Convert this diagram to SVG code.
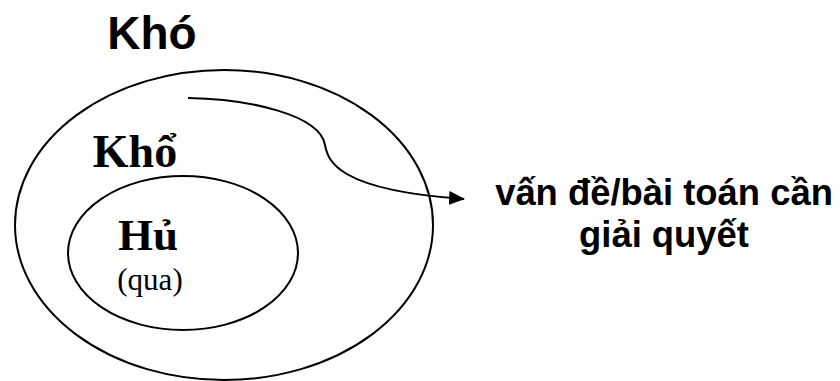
<svg xmlns="http://www.w3.org/2000/svg" width="840" height="381" viewBox="0 0 840 381">
<style>
.line{fill:none;stroke:#000;stroke-width:2}
.sans{font-family:"Liberation Sans",Arial,sans-serif;font-weight:bold;fill:#000}
.serif{font-family:"Liberation Serif","Times New Roman",serif;fill:#000}
</style>
<defs>
<marker id="arr" markerWidth="16" markerHeight="14" refX="15" refY="7" orient="auto" markerUnits="userSpaceOnUse" viewBox="0 0 16 14">
<path d="M0,0 L16,7 L0,14 z" fill="#000"/>
</marker>
</defs>
<rect width="840" height="381" fill="#fff"/>
<g id="outer">
<ellipse class="line" cx="224" cy="225" rx="209" ry="155"/>
<text class="sans" x="152" y="49" font-size="46" text-anchor="middle">Khó</text>
</g>
<g id="kho">
<text class="serif" x="135" y="167" font-size="46" font-weight="bold" text-anchor="middle">Khổ</text>
</g>
<g id="inner">
<ellipse class="line" cx="183" cy="253" rx="115" ry="77"/>
<text class="serif" x="148" y="250" font-size="45" font-weight="bold" text-anchor="middle">Hủ</text>
<text class="serif" x="150" y="290" font-size="31" text-anchor="middle">(qua)</text>
</g>
<g id="target">
<text class="sans" x="664" y="205" font-size="36.4" text-anchor="middle">vấn đề/bài toán cần</text>
<text class="sans" x="664" y="247" font-size="36.4" text-anchor="middle">giải quyết</text>
</g>
<g id="connectors">
<path class="line" d="M188,98 C250,99 320,115 325,145 C328,160 335,190 464,199" marker-end="url(#arr)"/>
</g>
</svg>
